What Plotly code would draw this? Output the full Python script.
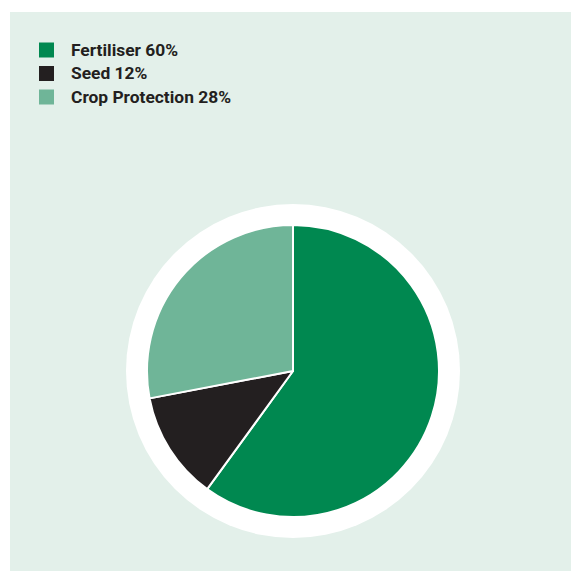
import plotly.graph_objects as go

# Share of input spending by category
categories = ["Fertiliser", "Seed", "Crop Protection"]
shares = [60, 12, 28]
colors = ["#008850", "#231f20", "#6fb598"]

legend_labels = [f"{c} {v}%" for c, v in zip(categories, shares)]

W = H = 571
cx, cy = 293, 371          # pie centre in pixels
r_pie, r_ring = 146, 167   # pie radius and white halo radius

# key layout (pixels)
key_x0, key_size, key_text_x = 39, 15, 69
key_y0, key_step = 50, 23.5

FONT = "Roboto, Liberation Sans, sans-serif"


def px_x(v):
    return v / W


def px_y(v):
    return 1 - v / H


fig = go.Figure(
    go.Pie(
        labels=legend_labels,
        values=shares,
        marker=dict(colors=colors, line=dict(color="white", width=2)),
        sort=False,
        direction="clockwise",
        rotation=0,
        textinfo="none",
        hoverinfo="label",
        domain=dict(
            x=[px_x(cx - r_pie), px_x(cx + r_pie)],
            y=[px_y(cy + r_pie), px_y(cy - r_pie)],
        ),
    )
)

shapes = [
    # pale green panel
    dict(type="rect", xref="paper", yref="paper",
         x0=px_x(10), x1=1, y0=0, y1=px_y(12),
         fillcolor="#e3f0ea", line=dict(width=0), layer="below"),
    # white halo behind the pie
    dict(type="circle", xref="paper", yref="paper",
         x0=px_x(cx - r_ring), x1=px_x(cx + r_ring),
         y0=px_y(cy + r_ring), y1=px_y(cy - r_ring),
         fillcolor="white", line=dict(width=0), layer="below"),
]
annotations = []

# colour key drawn from the category arrays
for i, (label, color) in enumerate(zip(legend_labels, colors)):
    yc = key_y0 + i * key_step
    shapes.append(dict(
        type="rect", xref="paper", yref="paper",
        x0=px_x(key_x0), x1=px_x(key_x0 + key_size),
        y0=px_y(yc + key_size / 2), y1=px_y(yc - key_size / 2),
        fillcolor=color, line=dict(width=0),
    ))
    annotations.append(dict(
        text=f"<b>{label}</b>", xref="paper", yref="paper",
        x=px_x(key_text_x), y=px_y(yc), xanchor="left", yanchor="middle",
        showarrow=False,
        font=dict(family=FONT, size=17.4, color="#231f20"),
    ))

fig.update_layout(
    width=W,
    height=H,
    margin=dict(l=0, r=0, t=0, b=0),
    paper_bgcolor="white",
    plot_bgcolor="white",
    showlegend=False,
    shapes=shapes,
    annotations=annotations,
)

fig.write_html("out.html")
